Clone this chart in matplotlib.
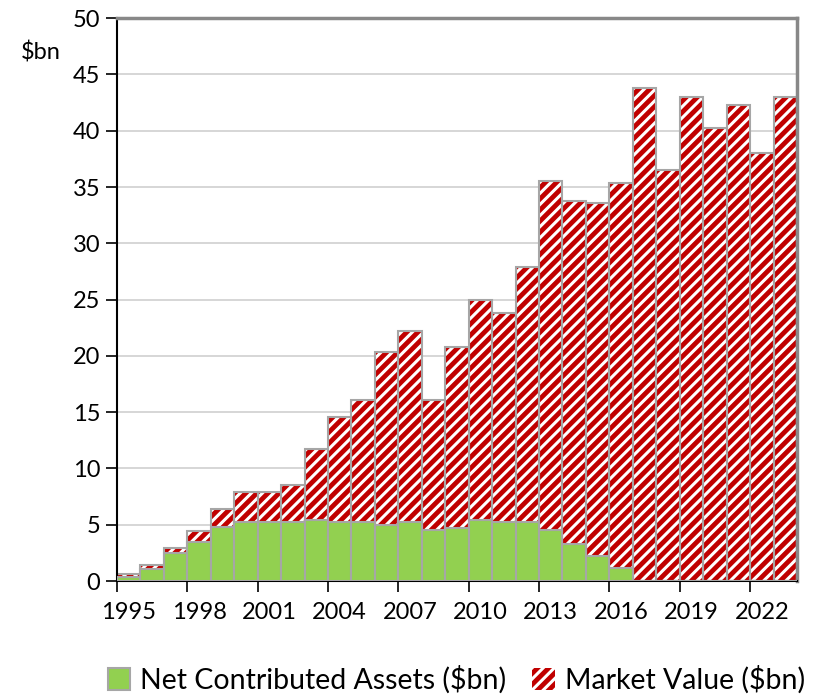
import matplotlib
matplotlib.use("Agg")
import matplotlib.pyplot as plt
import numpy as np

plt.rcParams["font.family"] = ["Lato", "DejaVu Sans"]
plt.rcParams["hatch.linewidth"] = 2.2

years = list(range(1995, 2024))
net_contrib = [0.4, 1.1, 2.5, 3.5, 4.8, 5.2, 5.2, 5.2, 5.4, 5.2,
               5.2, 5.0, 5.2, 4.5, 4.7, 5.4, 5.2, 5.2, 4.5, 3.3,
               2.2, 1.2, 0, 0, 0, 0, 0, 0, 0]
market_value = [0.6, 1.4, 2.9, 4.4, 6.4, 7.9, 7.9, 8.5, 11.7, 14.6,
                16.1, 20.3, 22.2, 16.1, 20.8, 25.0, 23.8, 27.9, 35.5, 33.8,
                33.6, 35.4, 43.8, 36.5, 43.0, 40.2, 42.3, 38.0, 43.0]

RED = "#C00000"; GREEN = "#92D050"; EDGE = "#A6A6A6"

fig = plt.figure(figsize=(8.25, 6.98), dpi=100)
ax = fig.add_axes([0.1418, 0.1676, 0.8242, 0.8064])

x = np.arange(len(years))
# 斜線は edgecolor の色で描かれるので、白縞用と枠線用の2回に分ける
ax.bar(x, market_value, width=1.0, color=RED, edgecolor="white", linewidth=0,
       hatch="///", zorder=2)
ax.bar(x, market_value, width=1.0, fill=False, edgecolor=EDGE, linewidth=1.5, zorder=2.5)
ax.bar(x, net_contrib, width=1.0, color=GREEN, edgecolor=EDGE, linewidth=1.5, zorder=3)

ax.set_xlim(-0.5, len(years) - 0.5)
ax.set_ylim(0, 50)
ax.set_yticks(range(0, 51, 5))
ax.yaxis.grid(True, color="#D0D0D0", lw=1.2, zorder=0)
ax.set_axisbelow(True)

# 目盛りは3カテゴリごとの境界、ラベルはカテゴリ中央
ax.set_xticks(np.arange(-0.5, len(years), 3))
ax.set_xticklabels([])
ax.set_xticks(x[::3], minor=True)
ax.set_xticklabels([str(y) for y in years[::3]], minor=True)
ax.tick_params(axis="x", which="minor", length=0, labelsize=17, pad=15)
ax.tick_params(axis="x", which="major", length=8, width=1.2, color="black")
ax.tick_params(axis="y", length=8, width=1.2, labelsize=17, pad=4)

for s in ("left", "bottom"):
    ax.spines[s].set_color("black"); ax.spines[s].set_linewidth(1.5)
for s in ("top", "right"):
    ax.spines[s].set_color("#888888"); ax.spines[s].set_linewidth(2.5)

fig.text(0.025, 0.925, "$bn", fontsize=17, ha="left", va="center")

from matplotlib.patches import Patch
handles = [Patch(facecolor=GREEN, edgecolor=EDGE, linewidth=1.5),
           Patch(facecolor=RED, edgecolor="white", hatch="///", linewidth=0)]
labels = ["Net Contributed Assets ($bn)", "Market Value ($bn)"]
fig.legend(handles, labels, loc="center", bbox_to_anchor=(0.553, 0.026),
           ncol=2, frameon=False, fontsize=20.5, handlelength=0.8, handleheight=0.8,
           handletextpad=0.35, columnspacing=0.9)

fig.savefig("out.png", dpi=100)
